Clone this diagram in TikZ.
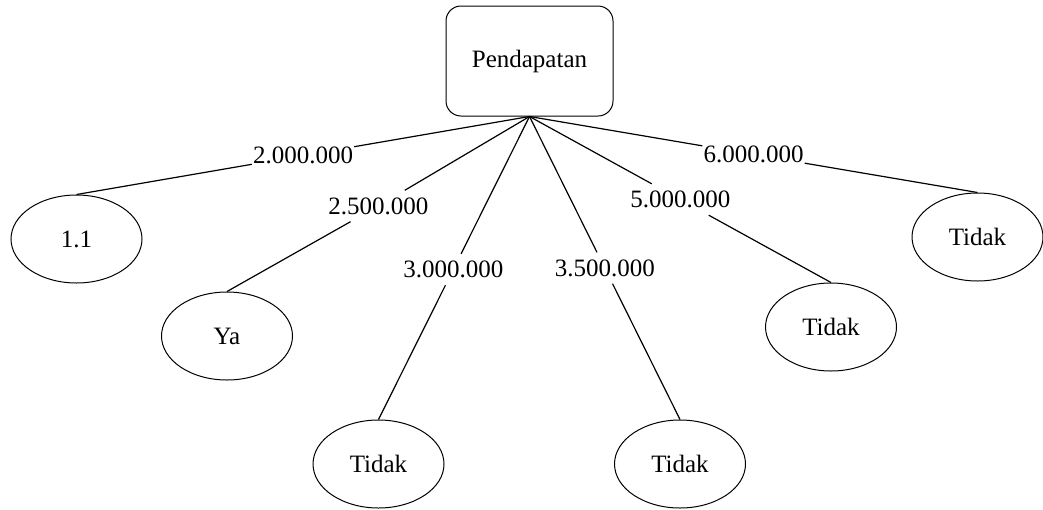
\documentclass[tikz,border=0pt]{standalone}
\usepackage{fontspec}
\setmainfont{Liberation Serif}
\usetikzlibrary{shapes.geometric,calc}
\begin{document}
\begin{tikzpicture}[x=1pt,y=-1pt,
  txt/.style={font=\fontsize{25}{30}\selectfont},
  rootbox/.style={draw, rounded corners=15pt, line width=1pt, minimum width=167pt, minimum height=110pt, inner sep=0pt, txt},
  leaf/.style={draw, ellipse, line width=1pt, minimum width=131pt, minimum height=88pt, inner sep=0pt, txt},
  edge/.style={line width=1.2pt},
  lbl/.style={inner xsep=1pt, inner ysep=7pt, txt}]
\useasboundingbox (0,0) rectangle (1043,509);
\node[rootbox] (root) at (529.5,61) {Pendapatan};
\node[leaf] (a) at (76.5,239) {1.1};
\node[leaf] (b) at (227,336) {Ya};
\node[leaf] (c) at (378.5,464) {Tidak};
\node[leaf] (d) at (680,464) {Tidak};
\node[leaf] (e) at (831,327) {Tidak};
\node[leaf] (f) at (977.5,237) {Tidak};
\node[lbl] (la) at ($(root.south)!0.5!(a.north)$) {2.000.000};
\node[lbl] (lb) at ($(root.south)!0.5!(b.north)+(0,2)$) {2.500.000};
\node[lbl] (lc) at ($(root.south)!0.505!(c.north)$) {3.000.000};
\node[lbl] (ld) at ($(root.south)!0.5!(d.north)$) {3.500.000};
\node[lbl] (le) at ($(root.south)!0.5!(e.north)$) {5.000.000};
\node[lbl] (lf) at ($(root.south)!0.5!(f.north)$) {6.000.000};
\draw[edge] (root.south) -- (la) -- (a.north);
\draw[edge] (root.south) -- (lb) -- (b.north);
\draw[edge] (root.south) -- (lc) -- (c.north);
\draw[edge] (root.south) -- (ld) -- (d.north);
\draw[edge] (root.south) -- (le) -- (e.north);
\draw[edge] (root.south) -- (lf) -- (f.north);
\end{tikzpicture}
\end{document}
